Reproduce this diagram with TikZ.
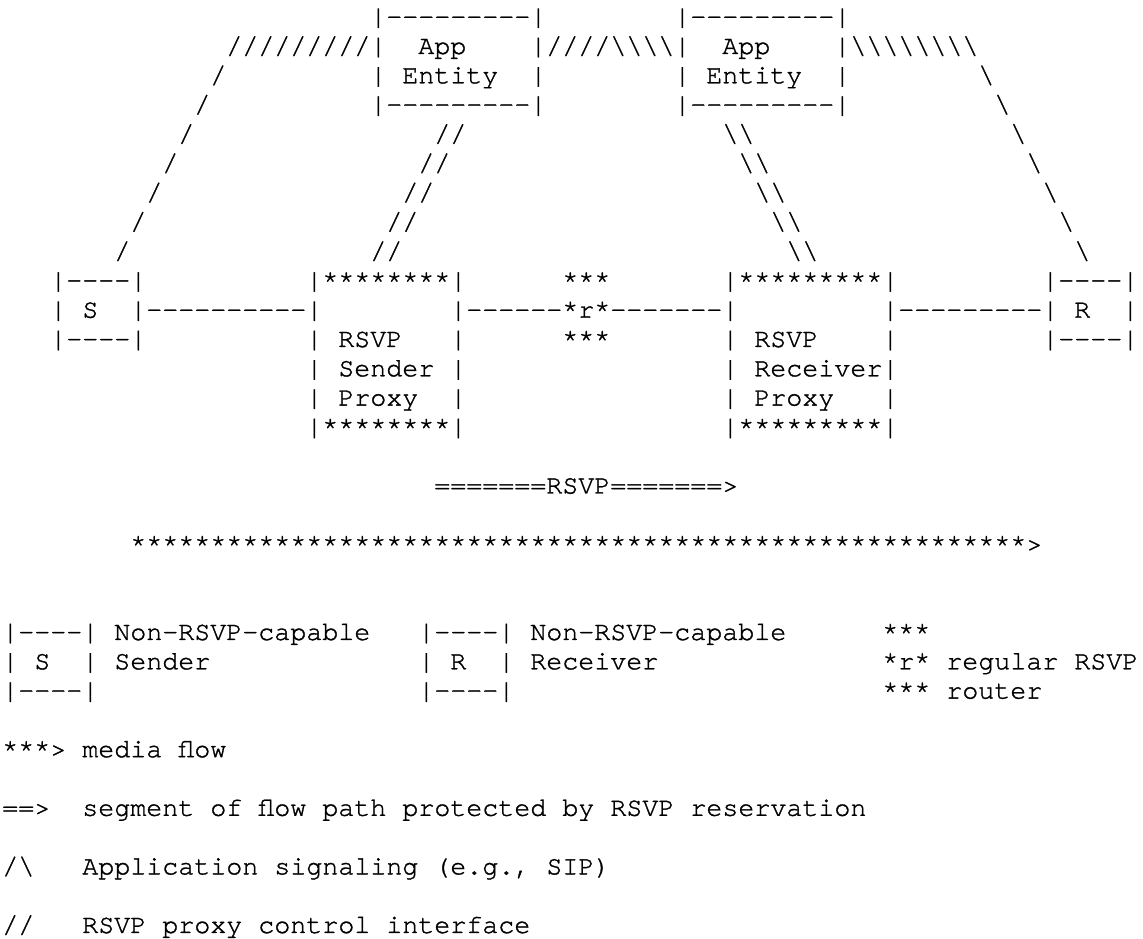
\documentclass[tikz,border=0pt]{standalone}
\usepackage{fontspec}
\setmonofont{texgyrecursor-regular.otf}[FakeBold=1.2]
\newcommand\bs{\textbackslash}
\tikzset{
  txt/.style={anchor=base west, inner sep=0pt, outer sep=0pt,
    font=\ttfamily\fontsize{26.67pt}{29.3pt}\selectfont\frenchspacing}
}
% place text at (column, row) of the character grid
\newcommand\T[3]{\node[txt] (r#2c#1) at ({2.3+16*(#1)},{914.3-29.3*(#2)}) {#3};}
\begin{document}
\begin{tikzpicture}[x=1pt,y=1pt]
\useasboundingbox (0,0) rectangle (1143,939);
\fill[white] (0,0) rectangle (1143,939);
% row 0
\T{23}{0}{|---------|}
\T{42}{0}{|---------|}
% row 1
\T{14}{1}{/////////}
\T{23}{1}{|}
\T{26}{1}{App}
\T{33}{1}{|////\bs\bs\bs\bs|}
\T{45}{1}{App}
\T{52}{1}{|\bs\bs\bs\bs\bs\bs\bs\bs}
% row 2
\T{13}{2}{/}
\T{23}{2}{|}
\T{25}{2}{Entity}
\T{33}{2}{|}
\T{42}{2}{|}
\T{44}{2}{Entity}
\T{52}{2}{|}
\T{61}{2}{\bs}
% row 3
\T{12}{3}{/}
\T{23}{3}{|---------|}
\T{42}{3}{|---------|}
\T{62}{3}{\bs}
% rows 4-8
\T{11}{4}{/}\T{27}{4}{//}\T{45}{4}{\bs\bs}\T{63}{4}{\bs}
\T{10}{5}{/}\T{26}{5}{//}\T{46}{5}{\bs\bs}\T{64}{5}{\bs}
\T{9}{6}{/}\T{25}{6}{//}\T{47}{6}{\bs\bs}\T{65}{6}{\bs}
\T{8}{7}{/}\T{24}{7}{//}\T{48}{7}{\bs\bs}\T{66}{7}{\bs}
\T{7}{8}{/}\T{23}{8}{//}\T{49}{8}{\bs\bs}\T{67}{8}{\bs}
% row 9
\T{3}{9}{|----|}
\T{19}{9}{|********|}
\T{35}{9}{***}
\T{45}{9}{|*********|}
\T{65}{9}{|----|}
% row 10
\T{3}{10}{|}
\T{5}{10}{S}
\T{8}{10}{|----------|}
\T{28}{10}{|------*r*-------|}
\T{55}{10}{|---------|}
\T{67}{10}{R}
\T{70}{10}{|}
% row 11
\T{3}{11}{|----|}
\T{19}{11}{|}
\T{21}{11}{RSVP}
\T{28}{11}{|}
\T{35}{11}{***}
\T{45}{11}{|}
\T{47}{11}{RSVP}
\T{55}{11}{|}
\T{65}{11}{|----|}
% row 12
\T{19}{12}{|}
\T{21}{12}{Sender}
\T{28}{12}{|}
\T{45}{12}{|}
\T{47}{12}{Receiver}
\T{55}{12}{|}
% row 13
\T{19}{13}{|}
\T{21}{13}{Proxy}
\T{28}{13}{|}
\T{45}{13}{|}
\T{47}{13}{Proxy}
\T{55}{13}{|}
% row 14
\T{19}{14}{|********|}
\T{45}{14}{|*********|}
% row 16
\T{27}{16}{=======RSVP=======>}
% row 18
\T{8}{18}{********************************************************>}
% legend
\T{0}{21}{|----|}
\T{7}{21}{Non-RSVP-capable}
\T{26}{21}{|----|}
\T{33}{21}{Non-RSVP-capable}
\T{55}{21}{***}
\T{0}{22}{|}
\T{2}{22}{S}
\T{5}{22}{|}
\T{7}{22}{Sender}
\T{26}{22}{|}
\T{28}{22}{R}
\T{31}{22}{|}
\T{33}{22}{Receiver}
\T{55}{22}{*r*}
\T{59}{22}{regular RSVP}
\T{0}{23}{|----|}
\T{26}{23}{|----|}
\T{55}{23}{***}
\T{59}{23}{router}
\T{0}{25}{***>}
\T{5}{25}{media flow}
\T{0}{27}{==>}
\T{5}{27}{segment of flow path protected by RSVP reservation}
\T{0}{29}{/\bs}
\T{5}{29}{Application signaling (e.g., SIP)}
\T{0}{31}{//}
\T{5}{31}{RSVP proxy control interface}
\end{tikzpicture}
\end{document}
